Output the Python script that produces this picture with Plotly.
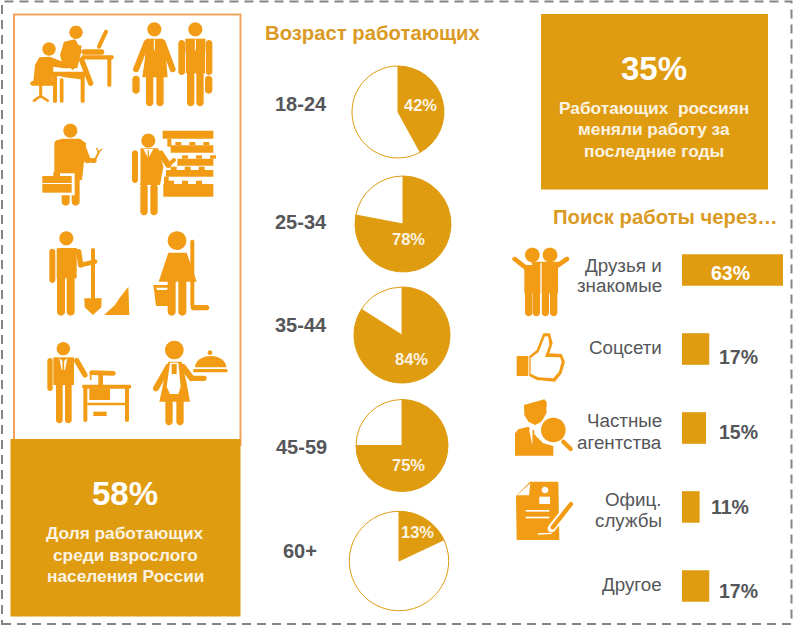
"""Infographic: employment in Russia, drawn with Plotly."""

import math

import plotly.graph_objects as go

W, H = 800, 642

BLOCK = "#E09C10"
ICON = "#F29B14"
HEAD = "#DB9A24"
GRAY = "#55565A"
CREAM = "#FBF3E2"
FONT = "Liberation Sans"

age_groups = ["18-24", "25-34", "35-44", "45-59", "60+"]
age_labels = ["42%", "78%", "84%", "75%", "13%"]
# slice sizes as drawn; the last slice in the picture is wider than its 13% label
age_shares = [42, 78, 84, 75, 18]

channels = ["Друзья и<br>знакомые", "Соцсети", "Частные<br>агентства", "Офиц.<br>службы", "Другое"]
channel_shares = [63, 17, 15, 11, 17]

left_note = ["Доля работающих", "среди взрослого", "населения России"]
right_note = ["Работающих\u00a0\u00a0россиян", "меняли работу за", "последние годы"]

# pie geometry in page pixels: centre x, centre y, radius
pie_boxes = [(398, 112, 46), (403, 224, 48), (402, 335, 48), (402, 445.5, 46), (399, 561, 49.7)]
pie_label_xy = [(420, 105.5), (408, 239), (411.5, 359), (408.5, 465), (417.5, 532)]
age_label_xy = [(301, 104), (301, 222), (301, 325), (301, 447), (300, 551)]
channel_label_y = [(265, 286), (348,), (420, 442), (499, 520), (584,)]
channel_value_xy = [(730, 273), (738.5, 357), (738.5, 432), (729.5, 507), (738.5, 591)]

shapes = []


def px(x):
    return x / W


def py(y):
    return 1 - y / H


def poly(points, color=ICON, ox=0, oy=0, s=1 / 3):
    d = " L ".join(f"{px(ox + x * s):.5f},{py(oy + y * s):.5f}" for x, y in points)
    shapes.append(dict(type="path", xref="paper", yref="paper", path=f"M {d} Z",
                       fillcolor=color, line_width=0))


def box(x0, y0, x1, y1, color=ICON, ox=0, oy=0, s=1 / 3):
    poly([(x0, y0), (x1, y0), (x1, y1), (x0, y1)], color, ox, oy, s)


def dot(cx, cy, r, color=ICON, ox=0, oy=0, s=1 / 3):
    poly([(cx + r * math.cos(i * math.pi / 14), cy + r * math.sin(i * math.pi / 14))
          for i in range(28)], color, ox, oy, s)


def limb(x0, y0, x1, y1, w, color=ICON, ox=0, oy=0, s=1 / 3):
    # capsule between two points, the rounded arms and legs of the pictograms
    a = math.atan2(y1 - y0, x1 - x0)
    r = w / 2
    pts = []
    for i in range(9):
        t = a + math.pi / 2 + i * math.pi / 8
        pts.append((x0 + r * math.cos(t), y0 + r * math.sin(t)))
    for i in range(9):
        t = a - math.pi / 2 + i * math.pi / 8
        pts.append((x1 + r * math.cos(t), y1 + r * math.sin(t)))
    poly(pts, color, ox, oy, s)


def frame(x0, y0, x1, y1, color, width, dash="solid"):
    shapes.append(dict(type="rect", xref="paper", yref="paper", x0=px(x0), x1=px(x1),
                       y0=py(y1), y1=py(y0), line=dict(color=color, width=width, dash=dash),
                       fillcolor="rgba(0,0,0,0)", layer="below"))


def panel(x0, y0, x1, y1):
    shapes.append(dict(type="rect", xref="paper", yref="paper", x0=px(x0), x1=px(x1),
                       y0=py(y1), y1=py(y0), line_width=0, fillcolor=BLOCK, layer="below"))


def office_icons():
    # seated woman
    dot(147, 147, 20)
    poly([(105, 195), (118, 172), (150, 170), (195, 188), (192, 205), (160, 200), (158, 245), (100, 245)])
    limb(98, 250, 158, 250, 14)
    limb(122, 255, 122, 290, 9)
    limb(102, 302, 122, 288, 8)
    limb(143, 302, 122, 288, 8)
    # desk and laptop
    limb(155, 222, 255, 222, 13)
    limb(248, 225, 248, 303, 12)
    limb(165, 225, 165, 303, 12)
    limb(185, 240, 185, 303, 11)
    limb(240, 140, 218, 205, 9)
    # man at the second desk
    dot(228, 97, 20)
    poly([(180, 165), (192, 125), (225, 118), (245, 150), (232, 205), (190, 205)])
    limb(190, 225, 240, 232, 12)
    limb(245, 180, 272, 250, 16)
    limb(250, 172, 335, 172, 13)
    limb(328, 175, 328, 255, 12)
    limb(318, 95, 297, 140, 12)
    limb(252, 156, 305, 156, 16)
    # woman and man with briefcases
    dot(463, 88, 21)
    poly([(438, 116), (490, 116), (498, 175), (503, 232), (427, 232), (435, 175)])
    limb(440, 128, 408, 208, 18)
    limb(488, 128, 518, 208, 18)
    limb(449, 232, 449, 308, 22)
    limb(480, 232, 480, 308, 22)
    limb(408, 238, 408, 270, 22)
    limb(463, 120, 463, 150, 3, "white")
    dot(586, 88, 21)
    box(556, 116, 616, 220)
    limb(545, 130, 545, 215, 20)
    limb(627, 130, 627, 215, 20)
    limb(572, 215, 572, 308, 22)
    limb(600, 215, 600, 308, 22)
    limb(626, 238, 626, 270, 22)
    limb(586, 120, 586, 150, 3, "white")
    limb(557, 155, 557, 218, 2, "white")
    limb(616, 155, 616, 218, 2, "white")
    # mechanic
    dot(211, 392, 21)
    poly([(165, 425), (185, 416), (240, 416), (258, 430), (246, 540), (184, 540)])
    limb(176, 432, 176, 510, 26)
    limb(245, 435, 262, 480, 20)
    limb(262, 480, 283, 482, 14)
    limb(285, 480, 296, 457, 6)
    limb(296, 457, 290, 445, 4)
    limb(296, 457, 305, 448, 4)
    limb(197, 540, 197, 605, 24)
    limb(227, 540, 227, 605, 24)
    box(120, 520, 224, 586, "white")
    box(160, 515, 180, 530)
    box(127, 528, 215, 578)
    box(127, 549, 215, 552, "white")
    # shop assistant and shelves
    dot(445, 422, 21)
    poly([(420, 445), (475, 445), (490, 500), (480, 555), (420, 555)])
    limb(405, 460, 405, 540, 18)
    limb(482, 460, 505, 495, 18)
    limb(505, 495, 522, 480, 12)
    limb(420, 445, 420, 550, 3, "white")
    poly([(430, 447), (445, 475), (460, 447)], "white")
    limb(445, 452, 445, 472, 4)
    limb(432, 562, 432, 635, 22)
    limb(462, 562, 462, 635, 22)
    box(488, 392, 640, 416)
    box(502, 416, 514, 440)
    for y0, y1, x0 in [(436, 458, 512), (476, 497, 532), (510, 530, 498), (552, 590, 490)]:
        box(x0, y0, 640, y1)
        for i in range(3):
            box(x0 + 14 + i * 42, y0 - 10, x0 + 32 + i * 42, y0)
    box(492, 530, 506, 555)


def trade_icons():
    o = dict(ox=0, oy=220)
    # man with shovel
    dot(199, 55, 21, **o)
    box(170, 85, 230, 175, **o)
    limb(157, 95, 157, 180, 18, **o)
    limb(180, 92, 225, 92, 16, **o)
    limb(236, 95, 242, 135, 16, **o)
    limb(242, 135, 285, 125, 14, **o)
    limb(183, 170, 183, 275, 24, **o)
    limb(212, 170, 212, 275, 24, **o)
    limb(279, 90, 279, 240, 12, **o)
    poly([(253, 235), (305, 235), (304, 262), (279, 285), (254, 262)], **o)
    poly([(312, 285), (345, 255), (358, 235), (385, 200), (388, 285)], **o)
    # cleaner with mop and bucket
    dot(531, 62, 28, **o)
    poly([(505, 98), (560, 98), (590, 185), (476, 185)], **o)
    limb(515, 180, 515, 275, 24, **o)
    limb(547, 180, 547, 275, 24, **o)
    limb(577, 65, 577, 255, 12, **o)
    limb(580, 263, 620, 263, 16, **o)
    poly([(460, 195), (512, 195), (506, 258), (468, 258)], **o)
    poly([(468, 203), (504, 203), (500, 210), (472, 210)], "white", **o)
    # tailor at sewing machine
    dot(190, 386, 20, **o)
    box(160, 412, 222, 495, **o)
    limb(150, 422, 150, 505, 16, **o)
    limb(230, 422, 255, 465, 16, **o)
    limb(178, 495, 178, 600, 20, **o)
    limb(205, 495, 205, 600, 20, **o)
    poly([(178, 415), (190, 425), (202, 415), (195, 450), (185, 450)], "white", **o)
    limb(190, 425, 190, 450, 5, **o)
    limb(252, 500, 388, 500, 12, **o)
    limb(256, 505, 256, 600, 12, **o)
    limb(381, 505, 381, 600, 12, **o)
    box(268, 505, 330, 540, **o)
    box(262, 548, 375, 556, **o)
    box(280, 575, 320, 588, **o)
    limb(275, 458, 340, 460, 14, **o)
    limb(302, 460, 302, 495, 14, **o)
    limb(272, 458, 272, 478, 5, **o)
    # waitress with cloche
    dot(523, 390, 28, **o)
    poly([(505, 425), (545, 425), (560, 490), (570, 545), (478, 545), (490, 490)], **o)
    limb(505, 440, 468, 505, 18, **o)
    limb(548, 440, 575, 475, 18, **o)
    limb(575, 475, 612, 475, 16, **o)
    limb(507, 545, 507, 605, 22, **o)
    limb(540, 545, 540, 605, 22, **o)
    poly([(510, 428), (535, 428), (542, 500), (535, 522), (510, 522), (500, 500)], "white", **o)
    box(515, 432, 530, 462, **o)
    dome = [(632 + 47 * math.cos(i * math.pi / 16), 442 - 34 * math.sin(i * math.pi / 16)) for i in range(17)]
    poly(dome, **o)
    dot(630, 398, 7, **o)
    limb(584, 452, 678, 452, 10, **o)


def search_icons():
    o = dict(ox=500, oy=230)
    # two friends
    dot(97, 75, 22, **o)
    dot(150, 75, 22, **o)
    box(73, 105, 122, 190, **o)
    box(124, 105, 174, 190, **o)
    limb(86, 185, 86, 248, 22, **o)
    limb(109, 185, 109, 248, 22, **o)
    limb(136, 185, 136, 248, 22, **o)
    limb(161, 185, 161, 248, 22, **o)
    limb(80, 115, 44, 87, 14, **o)
    limb(168, 110, 201, 87, 14, **o)
    limb(100, 100, 175, 100, 10, **o)
    limb(123, 100, 123, 250, 3, "white", **o)
    # thumbs up
    box(50, 378, 85, 438, **o)
    outer = [(88, 378), (110, 360), (130, 310), (150, 310), (158, 340), (148, 370), (185, 372),
             (195, 395), (185, 430), (165, 455), (110, 450), (88, 438)]
    inner = [(92, 384), (116, 366), (135, 318), (145, 320), (148, 345), (135, 381), (180, 382),
             (185, 395), (177, 425), (160, 445), (115, 442), (92, 431)]
    poly(outer, **o)
    poly(inner, "white", **o)
    # agency: bust and magnifier
    o = dict(ox=505, oy=390)
    poly([(57, 45), (118, 28), (125, 35), (124, 70), (110, 95), (90, 105), (70, 95), (58, 75)], **o)
    poly([(30, 130), (40, 118), (70, 110), (95, 140), (115, 160), (145, 168), (145, 197), (30, 197)], **o)
    poly([(72, 118), (88, 118), (82, 165)], "white", **o)
    limb(85, 122, 85, 155, 5, **o)
    dot(145, 120, 44, "white", **o)
    dot(145, 120, 37, **o)
    limb(175, 155, 197, 177, 13, **o)
    # form and pen
    poly([(75, 275), (160, 275), (163, 450), (35, 450), (33, 318)], **o)
    poly([(36, 316), (72, 316), (76, 280)], "white", **o)
    dot(120, 300, 10, "white", **o)
    box(103, 320, 135, 342, "white", **o)
    box(62, 360, 133, 365, "white", **o)
    box(62, 380, 133, 385, "white", **o)
    limb(140, 415, 198, 342, 24, "white", **o)
    limb(143, 412, 198, 342, 13, **o)
    limb(100, 432, 138, 430, 4, "white", **o)


# frames and panels
frame(2, 1.5, 791.5, 624, "#858585", 2, "9px,6px")
frame(14, 14.5, 240.5, 445, "#F2A35E", 2)
panel(10.5, 439, 240.5, 616.5)
panel(541, 14, 768, 189.5)
office_icons()
trade_icons()
search_icons()

fig = go.Figure()

for share, (cx, cy, r) in zip(age_shares, pie_boxes):
    fig.add_trace(
        go.Pie(
            values=[share, 100 - share],
            sort=False,
            direction="clockwise",
            rotation=0,
            textinfo="none",
            hoverinfo="skip",
            marker=dict(colors=[BLOCK, "white"], line=dict(color=BLOCK, width=1)),
            domain=dict(x=[px(cx - r), px(cx + r)], y=[py(cy + r), py(cy - r)]),
        )
    )

fig.add_trace(
    go.Bar(
        x=channel_shares,
        y=channels,
        orientation="h",
        marker=dict(color=BLOCK, line_width=0),
        hoverinfo="skip",
    )
)


def label(x, y, text, size=16, color=GRAY, bold=False, anchor="center"):
    fig.add_annotation(
        x=px(x), y=py(y), xref="paper", yref="paper", text=f"<b>{text}</b>" if bold else text,
        showarrow=False, xanchor=anchor, yanchor="middle", align=anchor,
        font=dict(family=FONT, size=size, color=color),
    )


label(373, 33, "Возраст работающих", 20.3, HEAD, True)
label(665.5, 217, "Поиск работы через…", 20.3, HEAD, True)
label(125, 493, "58%", 33, "white", True)
for text, y in zip(left_note, (533, 554.5, 576)):
    label(125, y, text, 17.3, CREAM, True)
label(654, 68, "35%", 33, "white", True)
for text, y in zip(right_note, (107.5, 129, 150.5)):
    label(654, y, text, 17.3, CREAM, True)

for group, (x, y) in zip(age_groups, age_label_xy):
    label(x, y, group, 20, GRAY, True)
for text, (x, y) in zip(age_labels, pie_label_xy):
    label(x, y, text, 16.5, CREAM, True)
for name, ys in zip(channels, channel_label_y):
    for line, y in zip(name.split("<br>"), ys):
        label(663.5, y, line, 18.8, GRAY, False, "right")
for i, (share, (x, y)) in enumerate(zip(channel_shares, channel_value_xy)):
    label(x, y, f"{share}%", 19.5, "white" if i == 0 else GRAY, True)

fig.update_layout(
    width=W,
    height=H,
    margin=dict(l=0, r=0, t=0, b=0),
    paper_bgcolor="white",
    plot_bgcolor="rgba(0,0,0,0)",
    showlegend=False,
    shapes=shapes,
    bargap=0.6,
    xaxis=dict(domain=[px(682), px(783)], range=[0, 63], visible=False, fixedrange=True),
    yaxis=dict(domain=[py(625.5), py(230.5)], autorange="reversed", visible=False, fixedrange=True),
)

fig.write_html(
    "out.html",
    config=dict(displayModeBar=False),
    post_script="document.body.style.margin='0';",
)
